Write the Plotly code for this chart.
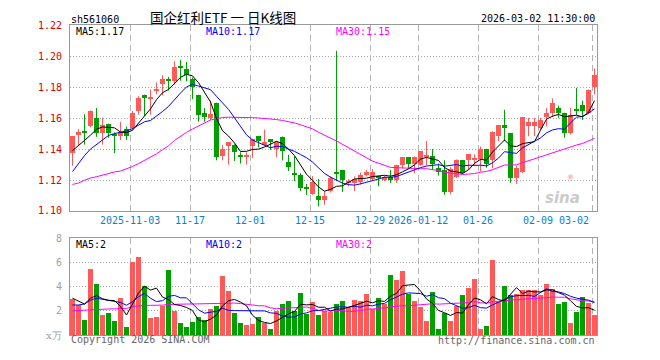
import math
import plotly.graph_objects as go

# ---------------- data ----------------
opens = [1.1370, 1.1490, 1.1513, 1.1546, 1.1600, 1.1504, 1.1563, 1.1485, 1.1483, 1.1529,
         1.1535, 1.1646, 1.1748, 1.1727, 1.1778, 1.1817, 1.1852, 1.1835, 1.1927, 1.1915,
         1.1852, 1.1750, 1.1633, 1.1600, 1.1696, 1.1352, 1.1417, 1.1425, 1.1354, 1.1350,
         1.1417, 1.1483, 1.1425, 1.1463, 1.1396, 1.1479, 1.1317, 1.1235, 1.1233, 1.1148,
         1.1108, 1.1096, 1.1067, 1.1129, 1.1248, 1.1265, 1.1179, 1.1181, 1.1185, 1.1229,
         1.1206, 1.1223, 1.1198, 1.1217, 1.1198, 1.1296, 1.1346, 1.1302, 1.1296, 1.1350,
         1.1352, 1.1275, 1.1265, 1.1119, 1.1217, 1.1327, 1.1327, 1.1330, 1.1333, 1.1400,
         1.1325, 1.1483, 1.1552, 1.1500, 1.1213, 1.1250, 1.1546, 1.1546, 1.1535, 1.1602,
         1.1629, 1.1665, 1.1633, 1.1500, 1.1648, 1.1681, 1.1633, 1.1800]
highs = [1.1485, 1.1530, 1.1625, 1.1650, 1.1665, 1.1602, 1.1565, 1.1508, 1.1575, 1.1546,
         1.1646, 1.1742, 1.1752, 1.1785, 1.1831, 1.1877, 1.1867, 1.1967, 1.1977, 1.1963,
         1.1863, 1.1752, 1.1665, 1.1713, 1.1700, 1.1427, 1.1446, 1.1431, 1.1379, 1.1379,
         1.1467, 1.1485, 1.1525, 1.1465, 1.1452, 1.1481, 1.1363, 1.1354, 1.1244, 1.1175,
         1.1225, 1.1206, 1.1129, 1.1223, 1.2035, 1.1267, 1.1206, 1.1223, 1.1248, 1.1265,
         1.1271, 1.1225, 1.1227, 1.1265, 1.1298, 1.1348, 1.1348, 1.1352, 1.1385, 1.1452,
         1.1400, 1.1306, 1.1327, 1.1283, 1.1333, 1.1329, 1.1367, 1.1365, 1.1417, 1.1402,
         1.1515, 1.1554, 1.1654, 1.1502, 1.1292, 1.1604, 1.1602, 1.1602, 1.1602, 1.1665,
         1.1727, 1.1681, 1.1635, 1.1665, 1.1796, 1.1713, 1.1785, 1.1921]
lows = [1.1292, 1.1420, 1.1429, 1.1540, 1.1479, 1.1429, 1.1473, 1.1373, 1.1458, 1.1458,
        1.1525, 1.1623, 1.1613, 1.1623, 1.1754, 1.1748, 1.1779, 1.1817, 1.1842, 1.1838,
        1.1723, 1.1577, 1.1577, 1.1588, 1.1327, 1.1327, 1.1300, 1.1323, 1.1306, 1.1300,
        1.1342, 1.1410, 1.1421, 1.1394, 1.1348, 1.1327, 1.1258, 1.1192, 1.1129, 1.1104,
        1.1104, 1.1029, 1.1040, 1.1119, 1.1192, 1.1123, 1.1160, 1.1129, 1.1171, 1.1223,
        1.1198, 1.1160, 1.1192, 1.1181, 1.1181, 1.1275, 1.1275, 1.1244, 1.1292, 1.1296,
        1.1265, 1.1229, 1.1104, 1.1108, 1.1213, 1.1238, 1.1265, 1.1296, 1.1254, 1.1279,
        1.1275, 1.1452, 1.1452, 1.1181, 1.1175, 1.1244, 1.1483, 1.1483, 1.1525, 1.1546,
        1.1608, 1.1602, 1.1473, 1.1494, 1.1619, 1.1588, 1.1629, 1.1754]
closes = [1.1480, 1.1510, 1.1505, 1.1646, 1.1500, 1.1554, 1.1504, 1.1483, 1.1508, 1.1483,
          1.1629, 1.1729, 1.1729, 1.1730, 1.1781, 1.1852, 1.1835, 1.1927, 1.1925, 1.1879,
          1.1800, 1.1615, 1.1604, 1.1625, 1.1348, 1.1400, 1.1444, 1.1379, 1.1352, 1.1352,
          1.1463, 1.1452, 1.1446, 1.1446, 1.1446, 1.1383, 1.1279, 1.1233, 1.1146, 1.1146,
          1.1183, 1.1067, 1.1096, 1.1208, 1.1242, 1.1198, 1.1181, 1.1202, 1.1227, 1.1248,
          1.1252, 1.1208, 1.1217, 1.1198, 1.1296, 1.1346, 1.1304, 1.1346, 1.1383, 1.1352,
          1.1300, 1.1250, 1.1119, 1.1271, 1.1327, 1.1244, 1.1365, 1.1331, 1.1400, 1.1302,
          1.1505, 1.1552, 1.1535, 1.1212, 1.1275, 1.1602, 1.1575, 1.1575, 1.1583, 1.1633,
          1.1696, 1.1633, 1.1500, 1.1619, 1.1646, 1.1646, 1.1779, 1.1875]
volumes = [2.96, 2.43, 1.23, 5.47, 4.21, 1.63, 1.79, 1.15, 3.01, 0.67,
           6.03, 6.45, 4.00, 1.41, 1.49, 2.35, 5.39, 1.97, 0.99, 0.67,
           1.07, 1.47, 1.23, 2.11, 2.35, 4.83, 3.63, 1.79, 0.99, 0.83,
           0.91, 1.47, 0.99, 0.51, 1.95, 2.51, 2.75, 2.00, 3.47, 1.71,
           2.67, 1.63, 2.00, 1.87, 2.51, 2.75, 2.24, 2.83, 2.75, 3.39,
           2.11, 3.07, 2.56, 4.91, 4.51, 5.31, 3.39, 2.75, 2.27, 1.15,
           3.55, 0.43, 1.79, 1.15, 2.35, 3.31, 3.87, 4.59, 0.43, 0.75,
           6.19, 2.67, 4.03, 3.31, 3.39, 3.71, 3.71, 3.71, 3.31, 4.19,
           3.79, 2.51, 2.67, 0.99, 1.87, 3.15, 2.59, 1.63]

# moving-average values before enough in-window history exists
price_ma5_head = [1.1390, 1.1421, 1.1456, 1.1490]
price_ma10_head = [1.1254, 1.1306, 1.1358, 1.1400, 1.1431, 1.1463, 1.1488, 1.1500, 1.1508]
price_ma30_head = [1.1171, 1.1181, 1.1198, 1.1213, 1.1221, 1.1233, 1.1244, 1.1252, 1.1258, 1.1271,
                   1.1287, 1.1306, 1.1327, 1.1348, 1.1369, 1.1396, 1.1421, 1.1456, 1.1483, 1.1508,
                   1.1529, 1.1550, 1.1571, 1.1588, 1.1596, 1.1604, 1.1606, 1.1606, 1.1604]
vol_ma5_head = [3.04, 2.83, 2.56, 3.04]
vol_ma10_head = [2.48, 2.48, 2.56, 2.88, 3.04, 2.96, 2.88, 2.80, 2.69]
vol_ma30_head = [2.00, 2.03, 2.05, 2.12, 2.14, 2.15, 2.15, 2.16, 2.17, 2.20,
                 2.35, 2.43, 2.45, 2.45, 2.45, 2.47, 2.52, 2.55, 2.56, 2.56,
                 2.56, 2.57, 2.58, 2.60, 2.62, 2.64, 2.66, 2.64, 2.60]

date_labels = ["2025-11-03", "11-17", "12-01", "12-15", "12-29", "2026-01-12", "01-26", "02-09", "03-02"]
date_index = [10, 20, 30, 40, 50, 58, 68, 78, 87]

price_ticks = [1.10, 1.12, 1.14, 1.16, 1.18, 1.20, 1.22]
vol_ticks = [2, 4, 6, 8]

# ---------------- helpers ----------------
W, H = 660, 360
def px(x):
    return x / W
def py(y):
    return 1 - y / H

def rolling(vals, n, head):
    out = list(head)
    for i in range(len(head), len(vals)):
        out.append(sum(vals[i - n + 1:i + 1]) / n)
    return out

N = len(closes)
idx = list(range(N))
RED = "#ff5a5a"
GREEN = "#00a000"
is_up = [c >= o for o, c in zip(opens, closes)]
colors = [RED if u else GREEN for u in is_up]

ma5 = rolling(closes, 5, price_ma5_head)
ma10 = rolling(closes, 10, price_ma10_head)
ma30 = rolling(closes, 30, price_ma30_head)
vma5 = rolling(volumes, 5, vol_ma5_head)
vma10 = rolling(volumes, 10, vol_ma10_head)
vma30 = rolling(volumes, 30, vol_ma30_head)

fig = go.Figure()

# wicks
for flag, col in ((True, RED), (False, GREEN)):
    wx, wy = [], []
    for i in idx:
        if is_up[i] == flag:
            wx += [i, i, None]
            wy += [lows[i], highs[i], None]
    fig.add_trace(go.Scatter(x=wx, y=wy, mode="lines", line=dict(color=col, width=1),
                             hoverinfo="skip", showlegend=False, xaxis="x", yaxis="y"))

# bodies
fig.add_trace(go.Bar(x=idx, base=[min(o, c) for o, c in zip(opens, closes)],
                     y=[max(abs(c - o), 0.0007) for o, c in zip(opens, closes)],
                     width=0.8, marker=dict(color=colors, line=dict(width=0)),
                     showlegend=False, xaxis="x", yaxis="y"))

# price MAs
for vals, col in ((ma30, "#ff00ff"), (ma10, "#0000ff"), (ma5, "#000000")):
    fig.add_trace(go.Scatter(x=idx, y=vals, mode="lines", line=dict(color=col, width=1),
                             showlegend=False, xaxis="x", yaxis="y"))

# volume bars
fig.add_trace(go.Bar(x=idx, y=volumes, width=0.82, marker=dict(color=colors, line=dict(width=0)),
                     showlegend=False, xaxis="x2", yaxis="y2"))
for vals, col in ((vma30, "#ff00ff"), (vma10, "#0000ff"), (vma5, "#000000")):
    fig.add_trace(go.Scatter(x=idx, y=vals, mode="lines", line=dict(color=col, width=1),
                             showlegend=False, xaxis="x2", yaxis="y2"))

grid_x = [i - 0.37 for i in date_index]
x_range = [-0.417, 87.417]
MONO = "DejaVu Sans Mono"
BOX = "#999999"

xcommon = dict(range=x_range, domain=[px(70), px(597)], tickmode="array", tickvals=grid_x,
               showticklabels=False, ticks="", showgrid=True, gridcolor="#b4b4b4", gridwidth=1,
               griddash="6px,4px", zeroline=False, showline=True, linecolor=BOX, linewidth=1,
               mirror=True, fixedrange=True)

fig.update_layout(
    width=W, height=H, autosize=False,
    margin=dict(l=0, r=0, t=0, b=0),
    paper_bgcolor="white", plot_bgcolor="white",
    barmode="overlay", bargap=0,
    showlegend=False,
    xaxis=dict(anchor="y", **xcommon),
    xaxis2=dict(anchor="y2", **xcommon),
    yaxis=dict(domain=[py(212), py(20)], range=[1.10, 1.22], tickmode="array",
               tickvals=price_ticks, ticktext=["%.2f" % v for v in price_ticks],
               tickfont=dict(family=MONO, size=10, color="#e00000"), ticks="",
               ticklabelstandoff=5, showgrid=True, gridcolor="#a8a8a8", griddash="1px,2px",
               zeroline=False, showline=True, linecolor=BOX, linewidth=1, mirror=True,
               anchor="x", fixedrange=True),
    yaxis2=dict(domain=[py(340.3), py(240.3)], range=[0, 8], tickmode="array",
                tickvals=vol_ticks, ticktext=[str(v) for v in vol_ticks],
                tickfont=dict(family=MONO, size=10, color="#a0a0a0"), ticks="",
                ticklabelstandoff=5, showgrid=True, gridcolor="#a8a8a8", griddash="1px,2px",
                zeroline=False, showline=True, linecolor=BOX, linewidth=1, mirror=True,
                anchor="x2", fixedrange=True),
)

ann = []
def text(x, y, s, color="#000000", size=10, xanchor="left", family=MONO, xref="paper"):
    ann.append(dict(x=x, y=py(y), xref=xref, yref="paper", text=s, showarrow=False,
                    xanchor=xanchor, yanchor="middle",
                    font=dict(family=family, size=size, color=color)))

text(px(69), 13.5, "sh561060", size=10)
text(px(223), 11, "国企红利ETF 一 日K线图", size=13.5, xanchor="center", family="Noto Sans CJK SC")
text(px(597), 12.5, "2026-03-02 11:30:00", size=10, xanchor="right")
text(px(74), 26, "MA5:%.2f" % ma5[-1])
text(px(204), 26, "MA10:%.2f" % ma10[-1], color="#0000ff")
text(px(334), 26, "MA30:%.2f" % ma30[-1], color="#ff00ff")
text(px(74), 247, "MA5:%d" % math.floor(vma5[-1]))
text(px(204), 247, "MA10:%d" % math.floor(vma10[-1]), color="#0000ff")
text(px(334), 247, "MA30:%d" % math.floor(vma30[-1]), color="#ff00ff")
text(px(64), 341, "x万", color="#a0a0a0", size=10, xanchor="right", family="DejaVu Serif")
text(px(69), 345.5, "Copyright 2026 SINA.COM", color="#666666")
text(px(597), 346, "http://finance.sina.com.cn", color="#666666", xanchor="right")

for k, (lab, gx) in enumerate(zip(date_labels, grid_x)):
    last = k == len(date_labels) - 1
    ann.append(dict(x=gx if not last else px(591), xref="x" if not last else "paper",
                    y=py(222), yref="paper", text=lab, showarrow=False,
                    xanchor="center" if not last else "right", yanchor="middle",
                    font=dict(family=MONO, size=10, color="#0a7fd0")))

# sina watermark
ann.append(dict(x=px(582), y=py(199), xref="paper", yref="paper", text="<b><i>sina</i></b>",
                showarrow=False, font=dict(family="DejaVu Sans", size=15, color="rgba(185,185,185,0.75)")))
ann.append(dict(x=px(576), y=py(183), xref="paper", yref="paper", text="◉",
                showarrow=False, yanchor="bottom",
                font=dict(family="DejaVu Sans", size=8, color="rgba(240,150,150,0.6)")))

fig.update_layout(annotations=ann)
fig.write_html("out.html")
